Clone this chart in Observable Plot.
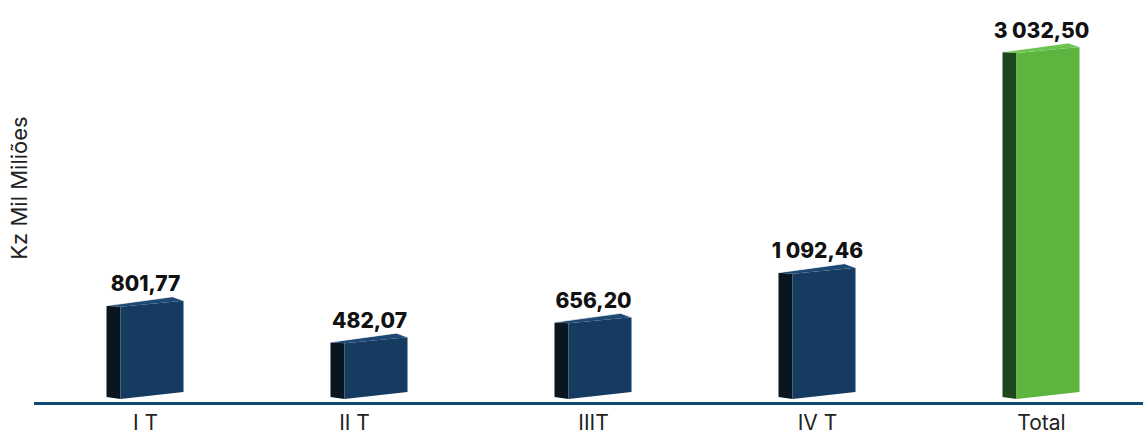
<!DOCTYPE html>
<html><head><meta charset="utf-8">
<script src="https://cdn.jsdelivr.net/npm/d3@7"></script>
<script src="https://cdn.jsdelivr.net/npm/@observablehq/plot@0.6"></script>
<style>
body{margin:0;background:#fff;}
#chart svg{display:block;}
</style>
</head><body><div id="chart"></div>
<script>
// ---- data ----
const categories = ["I T", "II T", "IIIT", "IV T", "Total"];
const values = [801.77, 482.07, 656.20, 1092.46, 3032.50];
const groups = ["trimestre", "trimestre", "trimestre", "trimestre", "total"];
const yLabel = "Kz Mil Miliões";

const data = categories.map((c, i) => ({cat: c, value: values[i], group: groups[i]}));

// ---- styles ----
const palette = {
  trimestre: {front: "#163b60", side: "#0a1522", top: "#1d4873"},
  total: {front: "#5db43f", side: "#1f471e", top: "#6ec350"}
};
const fmt = d3.formatLocale({decimal: ",", thousands: "\u00a0", grouping: [3], currency: ["", ""]}).format(",.2f");

function bar3d(index, scales, vals, dimensions) {
  const g = d3.create("svg:g");
  const bw = scales.x.bandwidth ? scales.x.bandwidth() : 224;
  for (const i of index) {
    const d = data[i];
    const cx = scales.x(d.cat) + bw / 2;
    const yt = scales.y(d.value);
    const yb = scales.y(0);
    const xs = cx - 38.5, xl = cx - 24.5, xr = cx + 38.5;
    const col = palette[d.group];
    const poly = (pts) => "M" + pts.map(p => p.join(",")).join("L") + "Z";
    // side face
    g.append("path").attr("d", poly([[xs, yt + 5], [xl, yt + 6], [xl, yb + 7], [xs, yb + 5]]))
      .attr("fill", col.side);
    // front face
    g.append("path").attr("d", poly([[xl, yt + 6], [xr, yt], [xr, yb], [xl, yb + 7]]))
      .attr("fill", col.front);
    // top face
    g.append("path").attr("d", poly([[xs, yt + 5], [xr - 11, yt - 4], [xr, yt], [xl, yt + 6]]))
      .attr("fill", col.top);
    g.append("path").attr("d", `M${xs},${yt + 5}L${xr - 11},${yt - 4}L${xr},${yt}`)
      .attr("fill", "none").attr("stroke", "#ffffff").attr("stroke-opacity", 0.7).attr("stroke-width", 1);
  }
  return g.node();
}

const plot = Plot.plot({
  width: 1143,
  height: 433,
  marginLeft: 34,
  marginRight: 0,
  marginTop: 0,
  marginBottom: 30,
  style: {background: "#fff", fontFamily: "Inter, 'Noto Sans', sans-serif"},
  x: {domain: categories, range: [33, 1153], padding: 0, axis: null},
  y: {domain: [0, d3.max(values)], range: [392, 47], axis: null},
  marks: [
    Plot.barY(data, {x: "cat", y: "value", render: bar3d}),
    Plot.ruleY([0], {dy: 11, stroke: "#0f4c75", strokeWidth: 3}),
    Plot.text(data, {
      x: "cat", y: "value", text: d => fmt(d.value), dy: -10, lineAnchor: "bottom",
      fontSize: 21, fontWeight: 800, fill: "#111"
    }),
    Plot.text(data.filter(d => d.cat !== "II T"), {
      x: "cat", text: "cat", frameAnchor: "bottom", lineAnchor: "bottom", dy: 26,
      fontSize: 21, fill: "#222"
    }),
    Plot.text(data.filter(d => d.cat === "II T"), {
      x: "cat", text: "cat", frameAnchor: "bottom", lineAnchor: "bottom", dy: 26, dx: -15,
      fontSize: 21, fill: "#222"
    }),
    Plot.text([yLabel], {
      frameAnchor: "left", textAnchor: "middle", rotate: -90, dx: -15, dy: -14, fontSize: 22, fill: "#222"
    })
  ]
});
document.getElementById("chart").append(plot);
</script>
</body></html>
